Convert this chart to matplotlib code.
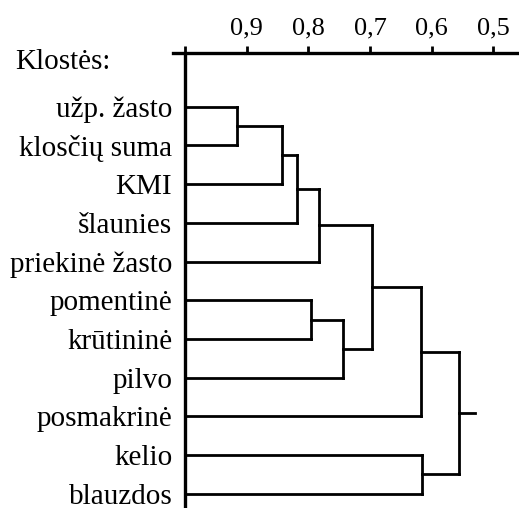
import matplotlib
matplotlib.use("Agg")
import matplotlib.pyplot as plt

# ---- data ----
leaves = ["užp. žasto", "klosčių suma", "KMI", "šlaunies", "priekinė žasto",
          "pomentinė", "krūtininė", "pilvo", "posmakrinė", "kelio", "blauzdos"]
# merges: (child_a, child_b, similarity level); new node ids start at len(leaves)
merge_a = [0, 11, 12, 13, 5, 15, 14, 17, 9, 18]
merge_b = [1, 2, 3, 4, 6, 7, 16, 8, 10, 19]
merge_level = [0.916, 0.843, 0.818, 0.783, 0.796, 0.743, 0.696, 0.618, 0.615, 0.556]
root_stub_level = 0.530
leaf_level = 1.0
tick_values = [1.0, 0.9, 0.8, 0.7, 0.6, 0.5]
tick_labels = ["", "0,9", "0,8", "0,7", "0,6", "0,5"]
title_text = "Klostės:"

W, H, DPI = 519, 508, 100
fig = plt.figure(figsize=(W / DPI, H / DPI), dpi=DPI)
plt.rcParams['font.family'] = ['Liberation Serif', 'DejaVu Serif']

ax_left_px, ax_top_px = 173, 53
ax = fig.add_axes([ax_left_px / W, 0, 1 - ax_left_px / W, 1 - ax_top_px / H])

# scales: 617 px per 1.0 unit, 1.0 at x=185px; leaves every 38.7 px starting 106.7px
px_per_x = 617.0
x_left = 1.0 + (185 - ax_left_px) / px_per_x
x_right = 0.5 - (W - 493.3) / px_per_x
ax.set_xlim(x_left, x_right)
px_per_leaf = 38.7
y_top = (ax_top_px - 106.7) / px_per_leaf
y_bot = (H - 106.7) / px_per_leaf
ax.set_ylim(y_bot, y_top)

lw = 2.0
col = "black"
n = len(leaves)
node_y = {i: float(i) for i in range(n)}
node_h = {i: leaf_level for i in range(n)}
for k, (a, b, h) in enumerate(zip(merge_a, merge_b, merge_level)):
    nid = n + k
    for c in (a, b):
        ax.plot([node_h[c], h], [node_y[c], node_y[c]], color=col, lw=lw,
                solid_capstyle='projecting', solid_joinstyle='miter')
    ax.plot([h, h], [node_y[a], node_y[b]], color=col, lw=lw,
            solid_capstyle='projecting')
    node_y[nid] = (node_y[a] + node_y[b]) / 2
    node_h[nid] = h
root = n + len(merge_level) - 1
ax.plot([node_h[root], root_stub_level], [node_y[root]] * 2, color=col, lw=lw)

# vertical base line at 1.0
ax.plot([leaf_level, leaf_level], [y_bot, y_top], color=col, lw=2.4, clip_on=False)

for s in ["left", "right", "bottom"]:
    ax.spines[s].set_visible(False)
ax.spines["top"].set_linewidth(2.4)

ax.xaxis.tick_top()
ax.set_xticks(tick_values)
ax.set_xticklabels(tick_labels, fontsize=19)
ax.tick_params(axis='x', direction='out', length=5, width=2, pad=5)

ax.set_yticks(range(n))
ax.set_yticklabels(leaves, fontsize=21)
ax.tick_params(axis='y', length=0, pad=0.5)

fig.text(15 / W, 1 - 69.3 / H, title_text, fontsize=21, ha='left', va='baseline')

fig.savefig("out.png", dpi=DPI)
